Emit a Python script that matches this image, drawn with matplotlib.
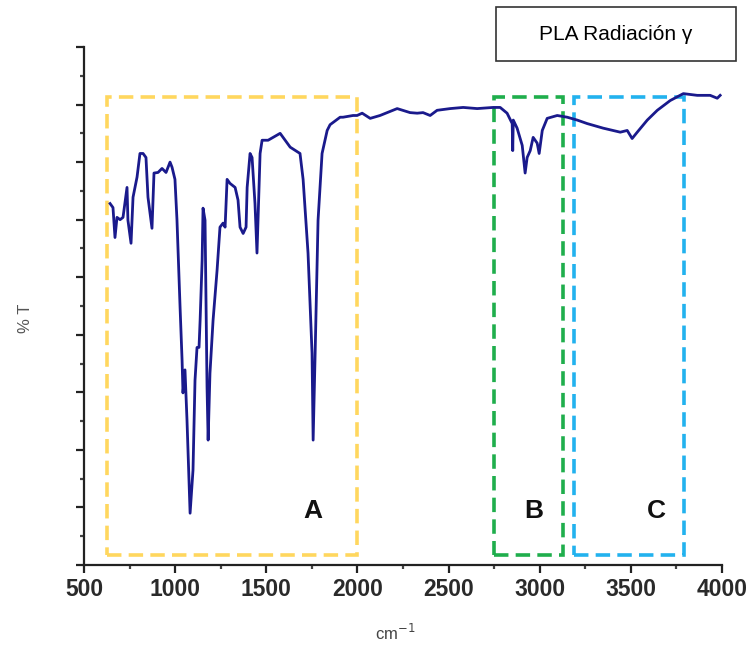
import matplotlib
matplotlib.use("Agg")
import matplotlib.pyplot as plt
from matplotlib.patches import Rectangle
from matplotlib.ticker import MultipleLocator, NullFormatter

# espectro FTIR (numero de onda cm-1, %T en unidades arbitrarias)
wn = [643, 659, 670, 681, 698, 714, 736, 741, 758, 769, 791, 807, 824, 840,
      851, 873, 884, 906, 928, 950, 972, 983, 999, 1010, 1027, 1038, 1043,
      1054, 1065, 1082, 1098, 1109, 1120, 1131, 1137, 1148, 1153, 1164, 1175,
      1181, 1191, 1208, 1230, 1246, 1263, 1274, 1285, 1301, 1329, 1345, 1356,
      1373, 1389, 1395, 1411, 1422, 1438, 1449, 1466, 1477, 1510, 1576, 1631,
      1685, 1702, 1729, 1751, 1757, 1768, 1784, 1806, 1834, 1850, 1905, 1921,
      1976, 1998, 2026, 2070, 2124, 2218, 2289, 2328, 2360, 2399, 2437, 2509,
      2580, 2657, 2745, 2783, 2821, 2849, 2852, 2855, 2876, 2904, 2920, 2931,
      2948, 2964, 2986, 2997, 3014, 3041, 3096, 3151, 3206, 3260, 3348, 3442,
      3480, 3507, 3535, 3590, 3645, 3716, 3788, 3864, 3935, 3974, 3990]
trans = [62.8, 62.1, 56.9, 60.4, 60.0, 60.4, 65.6, 59.9, 55.9, 63.9, 67.4,
         71.5, 71.5, 70.8, 63.9, 58.5, 68.1, 68.2, 68.9, 68.2, 70.0, 69.1,
         67.0, 60.0, 44.8, 35.6, 29.9, 33.9, 25.2, 9.0, 16.5, 32.1, 37.8, 37.8,
         42.5, 52.9, 62.0, 59.9, 30.9, 21.7, 33.3, 42.5, 51.2, 58.7, 59.4, 58.7,
         67.0, 66.3, 65.6, 63.4, 58.7, 57.6, 58.7, 65.6, 71.5, 70.8, 62.8, 54.2,
         71.5, 73.8, 73.8, 75.0, 72.6, 71.5, 67.0, 54.2, 36.8, 21.7, 36.8, 59.9,
         71.5, 75.5, 76.5, 77.8, 77.8, 78.1, 78.1, 78.5, 77.6, 78.1, 79.3, 78.6,
         78.5, 78.6, 78.1, 79.0, 79.3, 79.5, 79.3, 79.5, 79.5, 78.5, 76.7, 72.0,
         77.3, 75.9, 72.9, 68.1, 70.8, 72.0, 74.3, 73.3, 71.5, 75.5, 77.6, 78.1,
         77.8, 77.3, 76.7, 75.9, 75.2, 75.5, 74.1, 75.2, 77.3, 79.0, 80.7, 81.9,
         81.6, 81.6, 81.1, 81.6]

# regiones marcadas
reg_names = ["A", "B", "C"]
reg_x0 = [625, 2750, 3190]
reg_x1 = [2000, 3125, 3790]
reg_y0 = 1.8
reg_y1 = 81.3
reg_colors = ["#ffd75e", "#1fae4c", "#22b2ee"]
label_x = [1757, 2970, 3640]
label_y = 9.4

fig = plt.figure(figsize=(7.56, 6.51), dpi=100)
ax = fig.add_axes([84/756, 1-565/651, (722-84)/756, (565-47)/651])

ax.plot(wn, trans, color="#1a1a8c", lw=2.0, solid_joinstyle="round", zorder=3)

for n, x0, x1, c, lx in zip(reg_names, reg_x0, reg_x1, reg_colors, label_x):
    ax.add_patch(Rectangle((x0, reg_y0), x1 - x0, reg_y1 - reg_y0, fill=False,
                           edgecolor=c, lw=2.6, linestyle=(0, (4, 2)), zorder=2))
    ax.text(lx, label_y, n, fontsize=19, fontweight="bold", color="#111111",
            ha="center", va="center", family="Liberation Sans")

ax.set_xlim(500, 4000)
ax.set_ylim(0, 90)
ax.xaxis.set_major_locator(MultipleLocator(500))
ax.xaxis.set_minor_locator(MultipleLocator(250))
ax.yaxis.set_major_locator(MultipleLocator(10))
ax.yaxis.set_minor_locator(MultipleLocator(5))
ax.yaxis.set_major_formatter(NullFormatter())
for s in ["top", "right"]:
    ax.spines[s].set_visible(False)
for s in ["left", "bottom"]:
    ax.spines[s].set_linewidth(1.6)
    ax.spines[s].set_color("#222222")
ax.tick_params(which="major", length=6, width=1.6, color="#222222", direction="out")
ax.tick_params(which="minor", length=3, width=1.6, color="#444444", direction="out")
for lab in ax.get_xticklabels():
    lab.set_family("Liberation Sans")
    lab.set_fontweight("bold")
    lab.set_fontsize(16.5)
    lab.set_color("#2a2a2a")

fig.text(25/756, 1-318/651, "% T", rotation=90, fontsize=12, color="#555555",
         ha="center", va="center", family="Liberation Sans")
fig.text(395/756, 1-633/651, r"cm$^{-1}$", fontsize=12, color="#444444",
         ha="center", va="center", family="Liberation Sans")

fig.patches.append(Rectangle((496/756, 1-61/651), 240/756, 54/651, fill=False,
                             edgecolor="#333333", lw=1.2, transform=fig.transFigure,
                             figure=fig))
fig.text(616/756, 1-34/651, "PLA Radiación γ", fontsize=15, color="black",
         ha="center", va="center", family="Liberation Sans")

fig.savefig("out.png", dpi=100)
